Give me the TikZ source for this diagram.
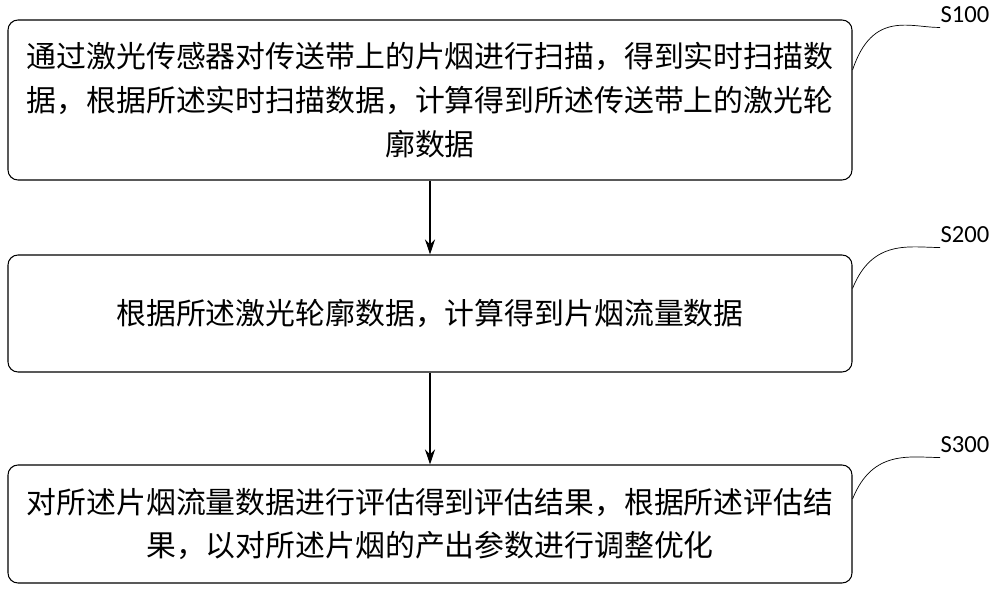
\documentclass[tikz,border=0pt]{standalone}
\usepackage{fontspec}
\setmainfont{Noto Sans CJK SC}
\newfontfamily\labelfont{Carlito}
\usetikzlibrary{arrows.meta, positioning}
\tikzstyle{stepbox} = [
    rectangle, rounded corners=2mm, draw=black, line width=0.6pt,
    minimum width=16.88cm, align=center, font=\fontsize{17}{25}\selectfont
]
\tikzstyle{arrow} = [line width=0.6pt,-{Stealth[length=3mm,width=2mm]}]
\tikzstyle{steplabel} = [font=\labelfont\fontsize{14}{16}\selectfont]
\begin{document}
\begin{tikzpicture}
\useasboundingbox (0,0) rectangle (20,-11.86);
% Schritte
\node (S_1) [stepbox, minimum height=3.2cm] at (8.6,-2) {通过激光传感器对传送带上的片烟进行扫描，得到实时扫描数\\据，根据所述实时扫描数据，计算得到所述传送带上的激光轮\\廓数据};
\node (S_2) [stepbox, minimum height=2.34cm] at (8.6,-6.27) {根据所述激光轮廓数据，计算得到片烟流量数据};
\node (S_3) [stepbox, minimum height=2.36cm] at (8.6,-10.48) {对所述片烟流量数据进行评估得到评估结果，根据所述评估结\\果，以对所述片烟的产出参数进行调整优化};

% Labels
\node (L_1) [steplabel] at (19.3,-0.3) {S100};
\node (L_2) [steplabel] at (19.3,-4.7) {S200};
\node (L_3) [steplabel] at (19.3,-8.9) {S300};

% Connections
\draw [arrow] (S_1) -- (S_2);
\draw [arrow] (S_2) -- (S_3);
\draw (S_1.east) ++(0,0.6) .. controls +(0.4,1.2) and +(-0.6,0) .. (18.8,-0.55);
\draw (S_2.east) ++(0,0.5) .. controls +(0.4,1.0) and +(-0.6,0) .. (18.8,-4.95);
\draw (S_3.east) ++(0,0.5) .. controls +(0.4,1.0) and +(-0.6,0) .. (18.8,-9.15);
\end{tikzpicture}
\end{document}
